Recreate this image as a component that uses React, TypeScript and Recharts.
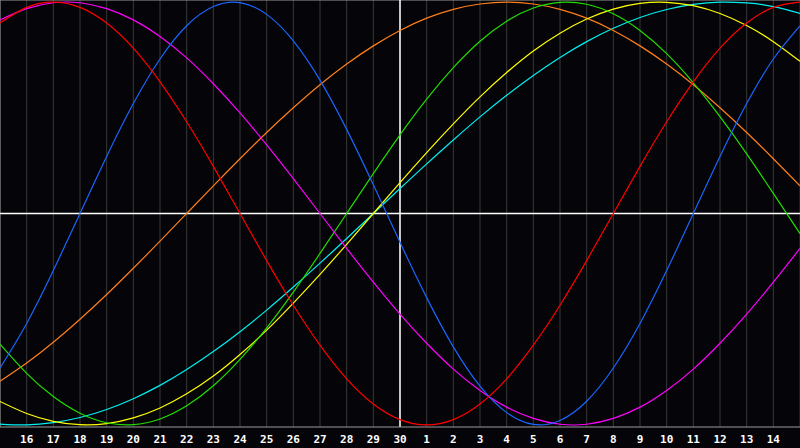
import { CartesianGrid, Line, LineChart, ReferenceLine, XAxis, YAxis } from "recharts";

// day labels, one per column (index 0 and 30 sit on the chart edges)
const DAYS = [
  "15", "16", "17", "18", "19", "20", "21", "22", "23", "24", "25", "26", "27", "28", "29", "30",
  "1", "2", "3", "4", "5", "6", "7", "8", "9", "10", "11", "12", "13", "14", "15",
];

// cycle values in percent, read per day
const physical = [-73.1, -52.0, -27.0, 0, 27.0, 52.0, 73.1, 88.8, 97.9, 99.8, 94.2, 81.7, 63.1, 39.8, 13.6, -13.6, -39.8, -63.1, -81.7, -94.2, -99.8, -97.9, -88.8, -73.1, -52.0, -27.0, 0, 27.0, 52.0, 73.1, 88.8];
const emotional = [90.1, 97.5, 100, 97.5, 90.1, 78.2, 62.3, 43.4, 22.3, 0, -22.3, -43.4, -62.3, -78.2, -90.1, -97.5, -100, -97.5, -90.1, -78.2, -62.3, -43.4, -22.3, 0, 22.3, 43.4, 62.3, 78.2, 90.1, 97.5, 100];
const intellectual = [-61.8, -75.6, -86.6, -94.5, -99.0, -99.9, -97.2, -91.0, -81.5, -69.0, -54.1, -37.2, -18.9, 0, 18.9, 37.2, 54.1, 69.0, 81.5, 91.0, 97.2, 99.9, 99.0, 94.5, 86.6, 75.6, 61.8, 45.8, 28.2, 9.5, -9.5];
const intuitive = [91.6, 96.9, 99.7, 99.7, 96.9, 91.6, 83.7, 73.6, 61.4, 47.6, 32.5, 16.5, 0, -16.5, -32.5, -47.6, -61.4, -73.6, -83.7, -91.6, -96.9, -99.7, -99.7, -96.9, -91.6, -83.7, -73.6, -61.4, -47.6, -32.5, -16.5];
const aesthetic = [-88.9, -94.6, -98.3, -99.9, -99.4, -96.7, -92.0, -85.3, -76.9, -66.7, -55.2, -42.4, -28.8, -14.6, 0, 14.6, 28.8, 42.4, 55.2, 66.7, 76.9, 85.3, 92.0, 96.7, 99.4, 99.9, 98.3, 94.6, 88.9, 81.3, 72.0];
const awareness = [-79.3, -70.7, -60.9, -50.0, -38.3, -25.9, -13.1, 0, 13.1, 25.9, 38.3, 50.0, 60.9, 70.7, 79.3, 86.6, 92.4, 96.6, 99.1, 100, 99.1, 96.6, 92.4, 86.6, 79.3, 70.7, 60.9, 50.0, 38.3, 25.9, 13.1];
const spiritual = [-99.6, -100, -98.9, -96.5, -92.7, -87.6, -81.3, -73.8, -65.3, -55.9, -45.7, -34.8, -23.5, -11.8, 0, 11.8, 23.5, 34.8, 45.7, 55.9, 65.3, 73.8, 81.3, 87.6, 92.7, 96.5, 98.9, 100, 99.6, 97.9, 94.7];

const TICKS = DAYS.map((_, i) => i).slice(1, 30);

const data = DAYS.map((d, i) => ({
  i,
  day: d,
  physical: physical[i],
  emotional: emotional[i],
  intellectual: intellectual[i],
  intuitive: intuitive[i],
  aesthetic: aesthetic[i],
  awareness: awareness[i],
  spiritual: spiritual[i],
}));

const SERIES = [
  { key: "spiritual", color: "#00f0f0" },
  { key: "awareness", color: "#ff7f1a" },
  { key: "aesthetic", color: "#ffff00" },
  { key: "intellectual", color: "#22dd00" },
  { key: "intuitive", color: "#ff00ff" },
  { key: "physical", color: "#1a66ff" },
  { key: "emotional", color: "#ff0000" },
];

export default function App() {
  return (
    <div style={{ position: "fixed", left: 0, top: 0, width: 800, height: 448, background: "#050408" }}>
      <LineChart width={800} height={448} data={data} margin={{ top: 0, right: 0, bottom: 0, left: 0 }}>
        <CartesianGrid horizontal={false} stroke="#3a3a3a" />
        <XAxis
          dataKey="i"
          type="number"
          domain={[0, 30]}
          ticks={TICKS}
          tickFormatter={(v: number) => DAYS[v]}
          interval={0}
          height={21}
          axisLine={{ stroke: "#9a9a9a" }}
          tickLine={false}
          tickSize={6}
          tickMargin={2}
          tick={{ fill: "#ffffff", fontSize: 11, fontWeight: "bold", fontFamily: "DejaVu Sans Mono" }}
        />
        <YAxis hide domain={[-101, 101]} />
        <ReferenceLine x={0} stroke="#9a9a9a" />
        <ReferenceLine y={101} stroke="#9a9a9a" />
        <ReferenceLine y={0} stroke="#ffffff" strokeWidth={1.5} />
        <ReferenceLine x={15} stroke="#ffffff" strokeWidth={1.5} />
        {SERIES.map((s) => (
          <Line
            key={s.key}
            dataKey={s.key}
            type="natural"
            stroke={s.color}
            strokeWidth={1.2}
            dot={false}
            activeDot={false}
            isAnimationActive={false}
          />
        ))}
      </LineChart>
    </div>
  );
}
